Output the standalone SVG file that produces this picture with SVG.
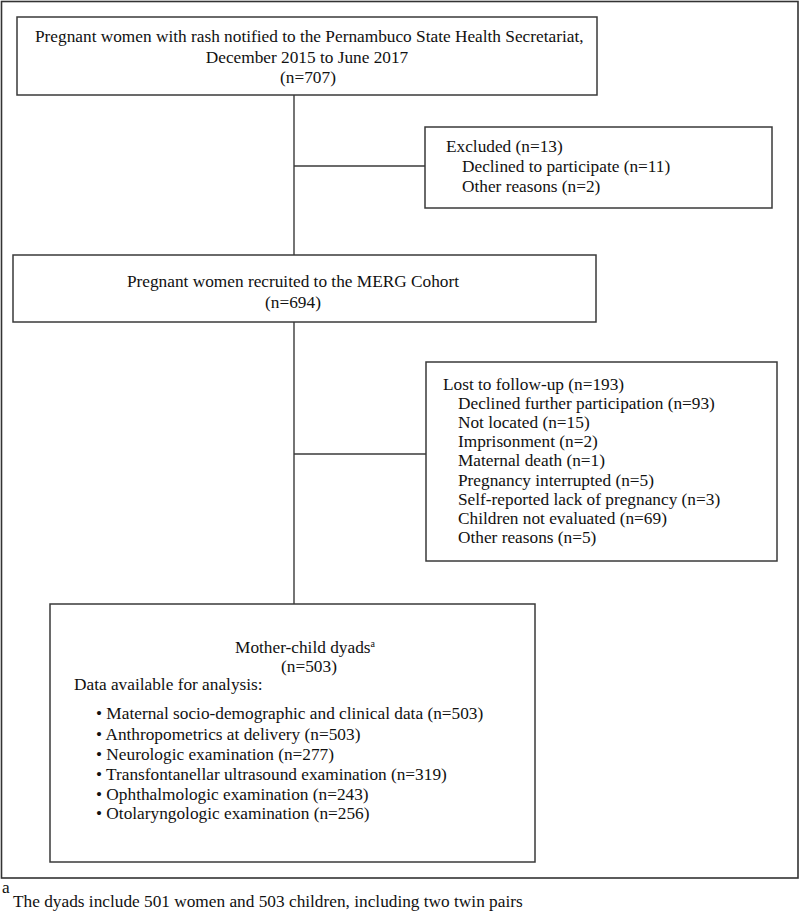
<svg xmlns="http://www.w3.org/2000/svg" width="800" height="912" viewBox="0 0 800 912">
<style>
text{font-family:"Liberation Serif","Times New Roman",serif;font-size:17.3px;fill:#111}
.box{fill:#fff;stroke:#3a3a3a;stroke-width:1.5}
.ln{stroke:#3a3a3a;stroke-width:1.4;fill:none}
.c{text-anchor:middle}
</style>
<rect x="0" y="0" width="800" height="912" fill="#fff"/>
<rect x="1.5" y="1.5" width="796.5" height="876.5" fill="none" stroke="#333" stroke-width="1.6"/>
<g id="connectors">
<line class="ln" x1="294" y1="95" x2="294" y2="255"/>
<line class="ln" x1="294" y1="166" x2="425" y2="166"/>
<line class="ln" x1="294" y1="322" x2="294" y2="604"/>
<line class="ln" x1="294" y1="454" x2="426" y2="454"/>
</g>
<g id="n1">
<rect class="box" x="17" y="17" width="580" height="78"/>
<text x="35" y="42">Pregnant women with rash notified to the Pernambuco State Health Secretariat,</text>
<text class="c" x="307" y="63">December 2015 to June 2017</text>
<text class="c" x="308" y="83">(n=707)</text>
</g>
<g id="excluded">
<rect class="box" x="425" y="127" width="347" height="81"/>
<text x="446" y="152">Excluded (n=13)</text>
<text x="462" y="172">Declined to participate (n=11)</text>
<text x="462" y="192">Other reasons (n=2)</text>
</g>
<g id="n2">
<rect class="box" x="13" y="255" width="583" height="67"/>
<text class="c" x="293" y="287">Pregnant women recruited to the MERG Cohort</text>
<text class="c" x="293" y="308">(n=694)</text>
</g>
<g id="lost">
<rect class="box" x="426" y="362" width="351" height="199"/>
<text x="443" y="390">Lost to follow-up (n=193)</text>
<text x="458" y="409">Declined further participation (n=93)</text>
<text x="458" y="428">Not located (n=15)</text>
<text x="458" y="447">Imprisonment (n=2)</text>
<text x="458" y="466">Maternal death (n=1)</text>
<text x="458" y="486">Pregnancy interrupted (n=5)</text>
<text x="458" y="505">Self-reported lack of pregnancy (n=3)</text>
<text x="458" y="524">Children not evaluated (n=69)</text>
<text x="458" y="543">Other reasons (n=5)</text>
</g>
<g id="dyads">
<rect class="box" x="50" y="604" width="485" height="258"/>
<text class="c" x="305" y="653">Mother-child dyads<tspan font-size="10" dy="-6">a</tspan></text>
<text class="c" x="309" y="672">(n=503)</text>
<text x="74" y="690">Data available for analysis:</text>
<text x="96" y="719">• Maternal socio-demographic and clinical data (n=503)</text>
<text x="96" y="740">• Anthropometrics at delivery (n=503)</text>
<text x="96" y="760">• Neurologic examination (n=277)</text>
<text x="96" y="780">• Transfontanellar ultrasound examination (n=319)</text>
<text x="96" y="800">• Ophthalmologic examination (n=243)</text>
<text x="96" y="819">• Otolaryngologic examination (n=256)</text>
</g>
<g id="footnote">
<text x="2" y="893" font-size="15">a</text>
<text x="13" y="907">The dyads include 501 women and 503 children, including two twin pairs</text>
</g>
</svg>
